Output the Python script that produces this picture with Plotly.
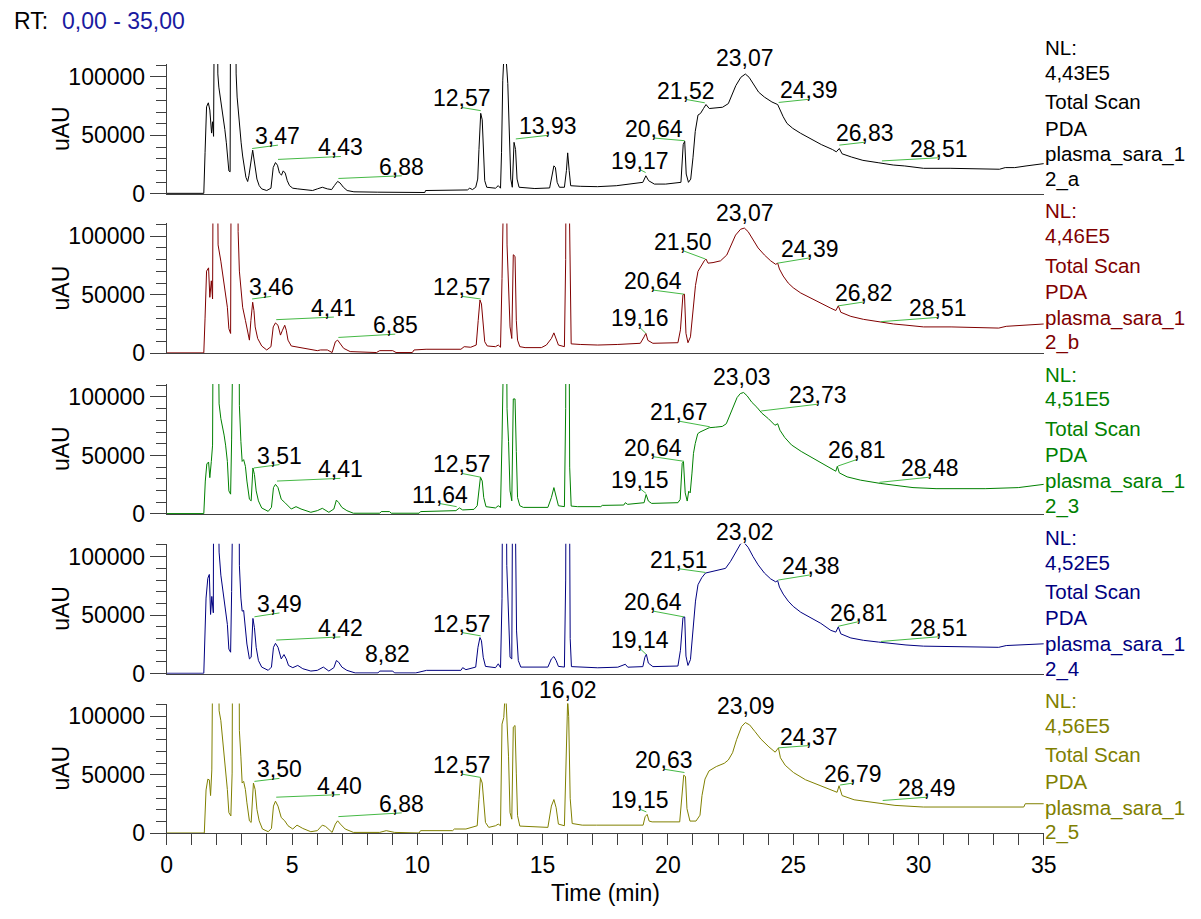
import plotly.graph_objects as go

# ---------------- data (time [min], intensity [uAU]) ----------------
TRACE_A = [(0,500),(1.48,500),(1.53,35200),(1.59,74500),(1.66,77900),(1.72,71700),(1.79,52000),(1.83,61700),(1.87,49200),
 (1.91,250000),(1.97,443000),(2.03,150000),(2.04,102600),(2.08,91300),(2.14,82800),(2.21,71700),(2.27,63300),(2.32,55000),
 (2.38,43700),(2.44,29600),(2.48,19700),(2.53,18900),(2.56,300000),(2.63,350000),(2.71,300000),(2.76,140000),(2.77,102600),
 (2.81,82800),(2.86,68800),(2.90,55000),(2.97,43700),(3.03,32400),(3.10,22600),(3.16,14200),(3.23,10600),(3.28,15600),
 (3.43,37400),(3.48,29600),(3.53,19700),(3.60,12700),(3.69,7100),(3.79,4300),(3.99,2900),(4.16,4900),(4.25,22600),
 (4.34,26800),(4.42,24500),(4.50,17800),(4.58,16100),(4.65,19700),(4.73,17800),(4.81,11300),(4.90,7100),(5.03,4900),
 (5.23,4300),(5.62,3400),(5.82,2900),(6.01,4300),(6.21,5700),(6.41,4300),(6.58,3700),(6.69,7100),(6.82,10700),(6.92,9300),
 (7.05,5700),(7.20,2900),(7.47,1800),(8.40,1500),(10.30,1200),(10.33,2900),(12.00,3400),(12.09,4900),(12.20,3700),
 (12.33,5700),(12.41,12700),(12.46,38000),(12.53,68900),(12.59,63300),(12.63,35200),(12.69,11300),(12.77,5700),
 (13.12,4900),(13.23,7100),(13.32,4900),(13.36,35200),(13.41,97200),(13.47,125000),(13.53,120000),(13.61,94400),
 (13.66,63300),(13.73,12700),(13.79,5700),(13.86,44100),(13.92,38000),(13.98,12700),(14.06,5700),(14.43,5100),
 (14.69,4600),(15.28,5100),(15.37,15600),(15.45,24000),(15.51,22600),(15.58,9900),(15.67,5700),(15.87,5700),
 (15.95,20000),(16.00,35100),(16.06,20000),(16.12,7000),(16.50,6500),(17.19,6200),(17.94,7000),(19.00,9900),
 (19.12,15500),(19.23,11300),(19.46,8400),(19.91,8400),(20.52,9900),(20.61,42200),(20.67,45000),(20.73,17000),
 (20.82,9900),(20.91,12700),(21.00,30900),(21.09,53400),(21.20,67400),(21.30,68800),(21.42,73000),(21.52,76400),
 (21.65,73000),(21.88,73600),(22.18,74100),(22.41,77200),(22.56,84200),(22.71,92600),(22.91,99700),(23.09,102500),
 (23.24,99700),(23.42,93200),(23.62,87000),(23.85,82800),(24.15,78600),(24.38,76400),(24.45,73000),(24.60,66000),
 (24.75,60300),(24.98,56100),(25.29,51900),(25.66,47700),(26.12,42200),(26.57,37900),(26.72,36000),(26.84,38800),
 (26.95,34300),(27.33,31500),(27.78,28700),(28.39,26700),(28.99,24700),(29.45,23900),(30.20,21900),(31.26,21900),
 (32.32,21400),(33.23,21100),(33.46,22500),(33.84,22500),(34.29,23900),(34.75,25300),(35.0,25900)]

TRACE_B = [(0,300),(1.48,300),(1.53,30000),(1.59,70200),(1.67,73000),(1.72,47800),(1.78,61900),(1.83,46400),(1.87,250000),
 (1.96,443000),(2.03,150000),(2.05,92600),(2.16,78700),(2.22,70200),(2.29,61900),(2.35,50600),(2.42,39300),(2.48,21000),
 (2.55,16900),(2.59,300000),(2.70,350000),(2.81,300000),(2.84,140000),(2.85,103900),(2.90,70200),(2.97,53400),(3.03,39300),
 (3.14,28100),(3.23,19700),(3.30,11200),(3.36,28100),(3.43,43600),(3.48,36500),(3.53,22500),(3.63,12600),(3.79,6200),
 (3.99,2800),(4.16,5600),(4.25,22500),(4.34,25900),(4.44,23900),(4.54,15500),(4.62,19700),(4.71,23900),(4.77,19700),
 (4.84,11200),(4.97,6200),(5.23,5100),(5.62,3400),(6.01,2200),(6.14,2800),(6.41,2800),(6.60,600),(6.73,9800),(6.82,11200),
 (6.93,8400),(7.06,4200),(7.32,1400),(8.37,600),(8.50,2200),(9.02,2200),(9.15,600),(9.80,600),(9.87,2800),(10.35,3400),
 (11.74,3400),(11.87,5600),(12.13,5100),(12.35,7000),(12.43,28100),(12.50,45500),(12.56,42100),(12.63,22500),(12.69,9800),
 (12.79,6200),(13.12,5600),(13.23,7000),(13.32,5100),(13.38,64000),(13.42,250000),(13.53,250000),(13.58,92600),
 (13.64,58400),(13.70,22500),(13.77,12600),(13.83,84200),(13.90,82800),(13.95,28100),(14.00,11200),(14.09,5600),
 (14.30,4800),(14.95,4800),(15.15,7000),(15.35,12600),(15.45,17400),(15.54,12600),(15.63,7000),(15.87,5600),(15.92,80000),
 (15.96,300000),(16.04,300000),(16.09,60000),(16.14,8000),(16.50,7500),(17.20,7000),(18.00,7500),(18.90,8500),(19.05,14000),
 (19.12,17000),(19.20,11000),(19.40,8500),(20.40,9000),(20.50,20000),(20.60,50000),(20.66,50500),(20.72,17000),(20.80,9000),
 (20.90,14000),(21.00,35000),(21.10,58000),(21.20,70000),(21.30,74000),(21.45,79000),(21.52,80500),(21.60,77000),
 (21.80,77500),(22.10,79000),(22.35,84000),(22.50,92000),(22.70,101000),(22.90,106000),(23.05,107000),(23.20,104000),
 (23.40,97000),(23.60,90000),(23.85,84000),(24.10,79000),(24.30,76000),(24.38,77000),(24.45,72000),(24.60,66000),
 (24.80,60000),(25.00,56000),(25.30,51500),(25.70,47000),(26.10,42500),(26.50,38500),(26.70,36500),(26.80,40500),
 (26.90,35000),(27.30,31500),(27.80,29000),(28.40,27000),(29.00,25000),(29.50,24000),(30.20,22500),(31.30,22500),
 (32.30,22000),(33.20,21500),(33.50,23000),(34.30,24000),(35.00,25000)]

TRACE_C = [(0,300),(1.48,300),(1.54,28100),(1.60,42700),(1.67,44400),(1.72,31000),(1.78,44900),(1.83,58800),(1.87,250000),
 (1.97,443000),(2.06,150000),(2.09,94100),(2.16,81500),(2.22,75800),(2.29,67400),(2.35,58800),(2.42,44900),(2.48,19700),
 (2.55,16900),(2.59,64000),(2.64,300000),(2.75,350000),(2.87,300000),(2.89,140000),(2.90,92600),(2.96,61900),(3.01,44900),
 (3.07,46400),(3.14,40700),(3.20,28100),(3.30,12600),(3.37,11200),(3.44,39300),(3.50,33700),(3.57,19700),(3.66,11200),
 (3.79,5100),(4.05,2200),(4.18,5600),(4.26,22500),(4.34,25300),(4.44,22500),(4.57,12600),(4.71,9800),(4.84,7000),
 (4.97,4200),(5.16,6200),(5.36,4200),(5.75,1400),(6.01,2800),(6.21,4800),(6.47,1400),(6.67,4200),(6.77,11800),(6.86,9800),
 (6.99,5600),(7.19,2800),(7.45,600),(8.50,600),(8.56,2000),(8.89,2000),(8.96,600),(10.07,600),(10.13,2000),(11.54,2800),
 (11.68,5100),(11.81,3400),(12.26,3900),(12.39,7000),(12.46,22500),(12.52,31500),(12.59,28100),(12.65,14000),(12.74,6200),
 (13.12,5100),(13.23,7000),(13.32,5600),(13.38,64000),(13.42,250000),(13.53,250000),(13.58,89900),(13.64,61900),
 (13.70,19700),(13.77,11200),(13.83,98300),(13.90,98300),(13.95,53400),(14.00,14000),(14.09,7000),(14.23,5600),
 (15.21,5600),(15.35,14000),(15.45,22500),(15.54,15500),(15.63,7000),(15.87,6200),(15.92,90000),(15.96,300000),
 (16.03,300000),(16.08,40000),(16.14,6700),(16.40,6200),(17.32,6200),(17.38,7300),(18.24,7600),(18.30,9600),(18.39,8200),
 (19.05,9600),(19.13,16600),(19.22,11000),(19.35,9000),(20.40,9600),(20.49,12400),(20.57,43300),(20.62,44700),
 (20.69,18000),(20.77,11000),(20.83,19400),(20.89,18000),(20.96,34900),(21.02,51800),(21.09,60200),(21.19,68600),
 (21.28,70000),(21.45,72000),(21.65,73700),(21.91,74200),(22.17,74800),(22.33,77100),(22.43,82700),(22.57,89700),
 (22.76,99500),(22.89,102900),(23.02,103800),(23.16,101000),(23.35,95400),(23.55,91200),(23.75,86100),(24.01,81400),
 (24.27,75800),(24.38,77100),(24.47,71600),(24.66,65400),(24.93,59000),(25.32,53400),(25.84,46900),(26.37,40700),
 (26.70,36500),(26.76,40700),(26.84,35100),(27.15,31700),(27.68,28900),(28.47,26100),(29.39,23300),(29.78,22500),
 (30.70,21600),(32.66,21600),(33.98,22500),(34.90,25300),(35.00,25300)]

TRACE_D = [(0,300),(1.48,300),(1.57,64600),(1.64,81500),(1.70,84800),(1.75,50600),(1.80,66000),(1.86,52000),(1.88,250000),
 (1.97,443000),(2.06,150000),(2.09,103900),(2.16,84200),(2.22,74400),(2.29,67400),(2.35,56200),(2.42,42100),(2.48,21000),
 (2.55,18300),(2.59,70200),(2.64,300000),(2.75,350000),(2.87,300000),(2.89,140000),(2.90,92600),(2.96,64600),(3.01,53400),
 (3.07,54000),(3.14,39300),(3.20,25300),(3.30,12600),(3.37,14000),(3.44,47200),(3.50,39300),(3.57,22500),(3.66,11200),
 (3.79,5600),(4.05,2800),(4.18,5600),(4.26,22500),(4.34,25900),(4.44,22500),(4.57,12600),(4.68,16300),(4.77,12600),
 (4.86,7000),(5.03,5100),(5.23,7000),(5.43,4200),(5.75,2200),(6.01,2800),(6.25,5600),(6.47,2200),(6.67,5100),(6.77,11200),
 (6.86,9800),(6.99,5600),(7.19,2800),(7.52,600),(8.43,600),(8.50,2200),(9.02,2200),(9.09,600),(9.94,600),(10.37,2800),
 (11.74,2800),(11.81,5100),(11.94,3400),(12.33,5600),(12.42,22500),(12.50,30900),(12.56,28100),(12.63,14000),(12.72,6200),
 (13.12,5100),(13.23,8400),(13.32,5100),(13.38,64000),(13.42,250000),(13.53,250000),(13.57,92600),(13.64,53400),
 (13.70,14000),(13.77,12600),(13.81,200000),(13.88,200000),(13.96,36500),(14.03,11200),(14.13,5600),(15.21,5600),
 (15.35,12600),(15.45,14600),(15.54,11200),(15.63,6200),(15.87,5600),(15.92,80000),(15.96,300000),(16.04,300000),
 (16.10,30000),(16.15,6000),(16.50,5500),(17.20,5000),(18.00,5500),(18.30,8000),(18.40,5500),(19.00,6000),(19.08,14000),
 (19.14,16500),(19.22,9000),(19.40,6000),(20.40,6500),(20.50,20000),(20.60,48000),(20.67,48500),(20.72,15000),(20.80,7000),
 (20.90,12000),(21.00,40000),(21.10,62000),(21.20,76000),(21.35,82000),(21.50,86000),(21.70,87000),(22.00,88000),
 (22.30,90000),(22.50,96000),(22.70,104000),(22.90,111000),(23.02,112500),(23.20,108000),(23.40,100000),(23.60,93000),
 (23.85,86000),(24.10,81000),(24.30,78500),(24.38,79500),(24.45,74000),(24.60,68000),(24.80,62000),(25.00,57500),
 (25.30,52500),(25.70,47500),(26.10,43000),(26.50,37000),(26.70,35500),(26.80,40000),(26.90,34000),(27.30,30500),
 (27.80,28500),(28.40,27000),(29.00,25500),(29.50,24500),(30.20,23500),(31.30,23000),(32.30,23000),(33.20,22500),
 (33.50,24000),(34.30,24500),(35.00,25500)]

TRACE_E = [(0,300),(1.50,300),(1.57,37100),(1.64,46300),(1.70,45700),(1.75,32300),(1.80,54200),(1.87,250000),(1.97,443000),
 (2.06,150000),(2.09,104800),(2.16,96400),(2.22,82300),(2.29,71100),(2.35,54200),(2.42,37400),(2.48,17700),(2.56,14900),
 (2.61,51500),(2.65,300000),(2.75,350000),(2.87,300000),(2.89,140000),(2.90,87900),(2.96,65400),(3.01,43000),(3.07,44400),
 (3.14,37400),(3.20,26100),(3.30,10700),(3.37,9300),(3.46,43000),(3.53,37400),(3.60,20500),(3.69,10700),(3.82,3700),
 (4.05,1400),(4.18,4200),(4.26,23300),(4.34,27500),(4.44,23300),(4.57,13500),(4.71,10700),(4.84,6500),(5.03,3700),
 (5.20,7000),(5.43,4200),(5.75,1400),(6.01,2300),(6.21,7000),(6.34,5900),(6.60,800),(6.73,7900),(6.82,10700),(6.93,7900),
 (7.12,3700),(7.45,800),(8.50,800),(8.76,2300),(9.09,800),(10.07,300),(10.13,2300),(11.41,2300),(11.48,3700),(11.94,3700),
 (12.39,6500),(12.46,29000),(12.52,47300),(12.59,43000),(12.65,23300),(12.72,9300),(12.85,5100),(13.12,6500),(13.23,7900),
 (13.32,6500),(13.38,93400),(13.45,99000),(13.52,125000),(13.58,99000),(13.64,65400),(13.70,17700),(13.77,12100),
 (13.83,90800),(13.90,92200),(13.95,51500),(14.00,15100),(14.09,6200),(15.21,5100),(15.35,23300),(15.45,28900),
 (15.54,21900),(15.63,7900),(15.87,6500),(15.93,60000),(16.00,115000),(16.04,100000),(16.10,30000),(16.18,8400),
 (16.58,7000),(17.15,7000),(18.04,7000),(19.01,7000),(19.09,14200),(19.17,16200),(19.25,10500),(19.37,9800),(20.47,9800),
 (20.55,26700),(20.63,49700),(20.70,48600),(20.76,21100),(20.88,10500),(21.12,10500),(21.28,15500),(21.36,32300),
 (21.48,46400),(21.64,53400),(21.93,57100),(22.25,59900),(22.41,62700),(22.58,68900),(22.74,80100),(22.94,91300),
 (23.09,94700),(23.26,92700),(23.47,87100),(23.71,80600),(24.03,73900),(24.28,69400),(24.41,73100),(24.49,64600),
 (24.68,58200),(25.01,52000),(25.49,45800),(26.14,40200),(26.75,35100),(26.83,40700),(26.95,32300),(27.43,28700),
 (28.24,26100),(29.06,23900),(30.19,22500),(31.16,22500),(32.62,22500),(34.20,22500),(34.26,25300),(35.00,25300)]

# peak labels: (text, leader-line start time, leader-line start intensity); None = no leader line
PEAKS_A = [("3,47",3.41,38800),("4,43",4.44,29500),("6,88",6.85,13200),("12,57",12.53,71200),("13,93",13.93,47000),
           ("19,17",19.11,18300),("20,64",20.67,45500),("21,52",21.47,77900),("23,07",None,None),("24,39",24.42,78200),
           ("26,83",26.84,41700),("28,51",28.54,28200)]
PEAKS_B = [("3,46",3.41,46400),("4,41",4.37,28700),("6,85",6.85,13500),("12,57",12.53,46400),("19,16",19.12,17000),
           ("20,64",20.64,50500),("21,50",21.50,80500),("23,07",None,None),("24,39",24.38,77000),("26,82",26.80,40500),
           ("28,51",28.50,27000)]
PEAKS_C = [("3,51",3.48,39300),("4,41",4.40,28100),("11,64",11.57,6200),("12,57",12.53,31400),("19,15",19.13,17500),
           ("20,64",20.64,45000),("21,67",21.67,74500),("23,03",None,None),("23,73",23.72,88000),("26,81",26.79,41000),
           ("28,48",28.44,27000)]
PEAKS_D = [("3,49",3.50,48600),("4,42",4.37,28700),("8,82",None,None),("12,57",12.53,32300),("19,14",19.13,16500),
           ("20,64",20.64,48500),("21,51",21.50,86500),("23,02",None,None),("24,38",24.40,80000),("26,81",26.80,40500),
           ("28,51",28.50,27500)]
PEAKS_E = [("3,50",3.50,44400),("4,40",4.37,30900),("6,88",6.85,14300),("12,57",12.53,47800),("16,02",None,None),
           ("19,15",19.14,18300),("20,63",20.66,52000),("23,09",None,None),("24,37",24.41,73100),("26,79",26.87,41300),
           ("28,49",28.57,28100)]

# label anchor positions (bottom-centre of each label, in axis units)
LABELPOS_A = [(4.44,41700),(6.95,32000),(9.38,15500),(11.77,73900),(15.22,50100),(18.88,20800),(19.43,47800),
              (20.74,80700),(23.09,108500),(25.63,80900),(27.85,44200),(30.80,30900)]
LABELPOS_B = [(4.17,48600),(6.67,30900),(9.12,16300),(11.78,48600),(18.88,22000),(19.40,54000),(20.62,87500),
              (23.09,112500),(25.65,81500),(27.81,43800),(30.76,30600)]
LABELPOS_C = [(4.50,42200),(6.93,30400),(10.89,8900),(11.78,34600),(18.89,21600),(19.42,48900),(20.44,79300),
              (22.97,109000),(25.97,93800),(27.55,46600),(30.44,31400)]
LABELPOS_D = [(4.50,51900),(6.93,31400),(8.81,8700),(11.78,35100),(18.89,21300),(19.42,53400),(20.45,89600),
              (23.09,113200),(25.70,84500),(27.62,44500),(30.80,31500)]
LABELPOS_E = [(4.50,47000),(6.91,33100),(9.38,17500),(11.78,50600),(16.02,114600),(18.90,20500),(19.85,54800),
              (23.13,101200),(25.62,75000),(27.40,43000),(30.35,30900)]

NL_VALUES = ["4,43E5", "4,46E5", "4,51E5", "4,52E5", "4,56E5"]
SAMPLE_SUFFIX = ["2_a", "2_b", "2_3", "2_4", "2_5"]
Y_TICKS = [0, 50000, 100000]
Y_TICKTEXT = ["0", "50000", "100000"]

TRACES = [TRACE_A, TRACE_B, TRACE_C, TRACE_D, TRACE_E]
PEAKS = [PEAKS_A, PEAKS_B, PEAKS_C, PEAKS_D, PEAKS_E]
LABELPOS = [LABELPOS_A, LABELPOS_B, LABELPOS_C, LABELPOS_D, LABELPOS_E]

# ---------------- layout / style ----------------
COLORS = ["#000000", "#800000", "#008000", "#000080", "#808000"]
W, H = 1201, 919
XL, XR = 163.3, 1054.5
ZERO_PX = [196.7, 358.3, 521.3, 683.3, 845.3]
PANEL_H = 131.7
YMAX = 111000
NL_TOP_PX = [48.3, 213.9, 379.5, 545.1, 710.7]
TEXT_OFFS = [0, 25, 55, 81.7, 108.4, 133.4]
FONT = "Liberation Sans, Arial, sans-serif"
AXC = "#404040"
LEAD = "#45b945"


def ppx(p):
    return 1 - p / H


fig = go.Figure()
layout = dict(width=W, height=H, margin=dict(l=0, r=0, t=0, b=0), paper_bgcolor="white",
              plot_bgcolor="white", showlegend=False, font=dict(family=FONT, color="black", size=22))
shapes, annotations = [], []

for i in range(5):
    sfx = "" if i == 0 else str(i + 1)
    pts = TRACES[i]
    fig.add_trace(go.Scatter(x=[p[0] for p in pts], y=[p[1] for p in pts], mode="lines",
                             line=dict(color=COLORS[i], width=1), xaxis="x" + sfx, yaxis="y" + sfx,
                             hoverinfo="skip", showlegend=False))
    dom = [ppx(ZERO_PX[i]), ppx(ZERO_PX[i] - PANEL_H)]
    last = i == 4
    layout["xaxis" + sfx] = dict(
        domain=[XL / W, XR / W], range=[0, 35], anchor="y" + sfx, showline=True, linecolor=AXC, linewidth=1,
        showgrid=False, zeroline=False, ticks="outside" if last else "", ticklen=11, tickcolor=AXC,
        tick0=0, dtick=5, showticklabels=last, tickfont=dict(size=23, color="black", family=FONT),
        minor=dict(ticks="outside" if last else "", tick0=0, dtick=1, ticklen=11, tickcolor=AXC, showgrid=False),
        fixedrange=True)
    layout["yaxis" + sfx] = dict(
        domain=dom, range=[0, YMAX], anchor="x" + sfx, showline=True, linecolor=AXC, linewidth=1,
        showgrid=False, zeroline=False, ticks="outside", ticklen=16, tickcolor=AXC,
        tickvals=Y_TICKS, ticktext=Y_TICKTEXT, tickfont=dict(size=23, color="black", family=FONT),
        minor=dict(ticks="outside", tick0=0, dtick=10000, ticklen=10, tickcolor=AXC, showgrid=False),
        fixedrange=True)

    # peak labels and leader lines
    for (txt, t0, y0), (lt, ly) in zip(PEAKS[i], LABELPOS[i]):
        if t0 is not None:
            shapes.append(dict(type="line", xref="x" + sfx, yref="y" + sfx, x0=t0, y0=y0, x1=lt, y1=ly,
                               line=dict(color=LEAD, width=1)))
        annotations.append(dict(xref="x" + sfx, yref="paper", x=lt, y=dom[0] + ly / YMAX * (dom[1] - dom[0]),
                                xanchor="center", yanchor="bottom", yshift=-6, text=txt, showarrow=False,
                                font=dict(size=23, color="black", family=FONT)))

    # y title
    annotations.append(dict(xref="paper", yref="paper", x=56 / W, y=ppx(ZERO_PX[i] - PANEL_H / 2),
                            text="uAU", textangle=-90, showarrow=False, xanchor="center", yanchor="middle",
                            font=dict(size=23, color="black", family=FONT)))

    # right-hand info block
    lines = ["NL:", NL_VALUES[i], "Total Scan", "PDA", "plasma_sara_1", SAMPLE_SUFFIX[i]]
    for txt, off in zip(lines, TEXT_OFFS):
        annotations.append(dict(xref="paper", yref="paper", x=(XR - 1) / W, y=ppx(NL_TOP_PX[i] + off),
                                xanchor="left", yanchor="middle", text=txt, showarrow=False,
                                font=dict(size=20.5, color=COLORS[i], family=FONT)))

# header and x title
annotations.append(dict(xref="paper", yref="paper", x=6.5 / W, y=ppx(21.7), xanchor="left", yanchor="middle",
                        text="RT:", showarrow=False, font=dict(size=23, color="black", family=FONT)))
annotations.append(dict(xref="paper", yref="paper", x=54.5 / W, y=ppx(21.7), xanchor="left", yanchor="middle",
                        text="0,00 - 35,00", showarrow=False, font=dict(size=23, color="#1a1aa0", family=FONT)))
annotations.append(dict(xref="paper", yref="paper", x=(XL + XR) / 2 / W, y=ppx(906), xanchor="center",
                        yanchor="middle", text="Time (min)", showarrow=False,
                        font=dict(size=23, color="black", family=FONT)))

layout["shapes"] = shapes
layout["annotations"] = annotations
fig.update_layout(**layout)
fig.write_html("out.html", config={"displayModeBar": False},
               post_script="document.body.style.margin='0';document.body.style.overflow='hidden';")
